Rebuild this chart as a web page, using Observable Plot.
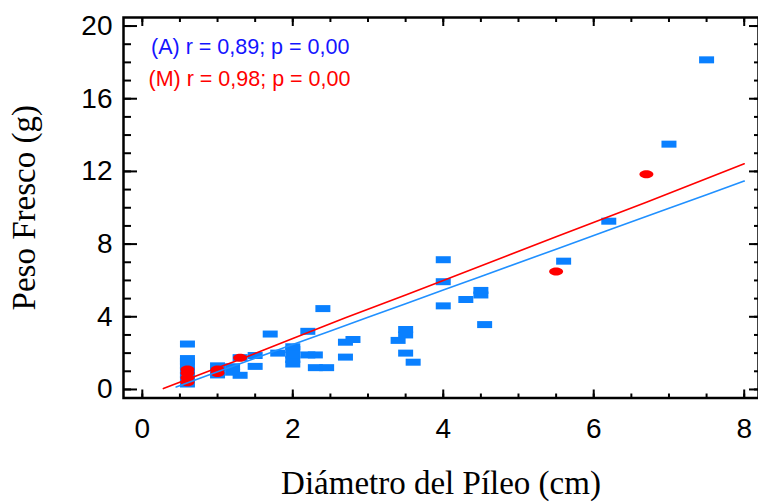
<!DOCTYPE html>
<html>
<head>
<meta charset="utf-8">
<script src="https://cdn.jsdelivr.net/npm/d3@7"></script>
<script src="https://cdn.jsdelivr.net/npm/@observablehq/plot@0.6"></script>
<style>
  html, body { margin: 0; padding: 0; background: #fff; }
</style>
</head>
<body>
<div id="chart"></div>
<script>
// ---- Data ----
// Series (A): blue rectangles
const aX = [0.6, 0.6, 0.6, 0.6, 0.6, 0.6, 0.6, 0.6,
            1.0, 1.0, 1.0, 1.2, 1.2, 1.3, 1.3, 1.5, 1.5, 1.7, 1.8,
            2.0, 2.0, 2.0, 2.0, 2.0, 2.2, 2.2, 2.3, 2.3, 2.45, 2.4,
            2.7, 2.8, 2.7, 3.4, 3.5, 3.5, 3.5, 3.6,
            4.0, 4.0, 4.0, 4.3, 4.5, 4.5, 4.55, 5.6, 6.2, 7.0, 7.5];
const aY = [0.3, 0.55, 0.8, 1.05, 1.3, 1.55, 1.7, 2.5,
            0.8, 1.05, 1.3, 1.25, 0.95, 0.78, 1.75, 1.27, 1.87, 3.05, 2.0,
            1.4, 1.65, 1.9, 2.2, 2.35, 3.2, 1.9, 1.9, 1.2, 1.2, 4.45,
            2.6, 2.75, 1.78, 2.7, 3.0, 3.3, 2.0, 1.5,
            4.6, 5.93, 7.14, 4.95, 5.2, 5.45, 3.57, 7.06, 9.26, 13.5, 18.14];
// Series (M): red ellipses
const mX = [0.6, 0.6, 0.6, 0.6, 1.0, 1.0, 1.3, 5.5, 6.7];
const mY = [0.4, 0.65, 0.9, 1.1, 0.9, 1.1, 1.74, 6.49, 11.85];

// Fitted lines
const aLineX = [0.45, 1.0, 1.5, 2.0, 2.5, 3.0, 3.5, 4.0, 4.5, 5.5, 6.2, 7.0, 7.5, 8.0];
const aLineY = [0.14, 0.97, 1.72, 2.47, 3.22, 3.97, 4.72, 5.47, 6.22, 7.72, 8.77, 9.97, 10.72, 11.47];
const mLineX = [0.28, 1.0, 1.3, 2.0, 2.7, 3.5, 4.0, 5.5, 6.7, 8.0];
const mLineY = [0.05, 1.2, 1.65, 2.8, 3.95, 5.2, 6.0, 8.4, 10.3, 12.42];

// Ticks and labels
const xTicks = [0, 2, 4, 6, 8];
const xMinor = [0, 0.5, 1, 1.5, 2, 2.5, 3, 3.5, 4, 4.5, 5, 5.5, 6, 6.5, 7, 7.5, 8];
const yTicks = [0, 4, 8, 12, 16, 20];
const yMinor = [0, 1, 2, 3, 4, 5, 6, 7, 8, 9, 10, 11, 12, 13, 14, 15, 16, 17, 18, 19, 20];
const annotations = ["(A) r = 0,89; p = 0,00", "(M) r = 0,98; p = 0,00"];
const xLabel = ["Diámetro del Píleo (cm)"];
const yLabel = ["Peso Fresco (g)"];

const aData = aX.map((x, i) => ({x, y: aY[i]}));
const mData = mX.map((x, i) => ({x, y: mY[i]}));
const aLine = aLineX.map((x, i) => ({x, y: aLineY[i]}));
const mLine = mLineX.map((x, i) => ({x, y: mLineY[i]}));

// Custom marker shapes
const rectSymbol = {
  draw(ctx) { ctx.rect(-7.5, -3.5, 15, 7); }
};
const ellipseSymbol = {
  draw(ctx) {
    const rx = 7, ry = 4, k = 0.5523;
    ctx.moveTo(rx, 0);
    ctx.bezierCurveTo(rx, ry * k, rx * k, ry, 0, ry);
    ctx.bezierCurveTo(-rx * k, ry, -rx, ry * k, -rx, 0);
    ctx.bezierCurveTo(-rx, -ry * k, -rx * k, -ry, 0, -ry);
    ctx.bezierCurveTo(rx * k, -ry, rx, -ry * k, rx, 0);
    ctx.closePath();
  }
};

const sans = "'Liberation Sans', Arial, Helvetica, sans-serif";
const serif = "'Liberation Serif', 'Times New Roman', serif";
const noText = () => "";

const chart = Plot.plot({
  width: 758,
  height: 502,
  marginLeft: 123,
  marginRight: 0,
  marginTop: 17,
  marginBottom: 104.5,
  x: {domain: [-0.25, 8.19]},
  y: {domain: [-0.47, 20.47]},
  marks: [
    Plot.frame({stroke: "black", strokeWidth: 2.5}),
    // bottom axis
    Plot.axisX(xMinor, {anchor: "bottom", tickSize: -4, tickFormat: noText, strokeWidth: 2, label: null}),
    Plot.axisX(xTicks, {anchor: "bottom", tickSize: -8, tickFormat: noText, strokeWidth: 2, label: null}),
    Plot.axisX(xTicks, {anchor: "bottom", tickSize: 0, tickPadding: 20, fontSize: 28, fontFamily: sans, fill: "black", label: null}),
    // top axis
    Plot.axisX(xMinor, {anchor: "top", tickSize: -4, tickFormat: noText, strokeWidth: 2, label: null}),
    Plot.axisX(xTicks, {anchor: "top", tickSize: -8, tickFormat: noText, strokeWidth: 2, label: null}),
    // left axis
    Plot.axisY(yMinor, {anchor: "left", tickSize: -8, tickFormat: noText, strokeWidth: 2, label: null}),
    Plot.axisY(yTicks, {anchor: "left", tickSize: -14, tickFormat: noText, strokeWidth: 2, label: null}),
    Plot.axisY(yTicks, {anchor: "left", tickSize: 0, tickPadding: 11, fontSize: 28, fontFamily: sans, fill: "black", label: null}),
    // right axis
    Plot.axisY(yMinor, {anchor: "right", tickSize: -5, tickFormat: noText, strokeWidth: 2, label: null}),
    Plot.axisY(yTicks, {anchor: "right", tickSize: -10, tickFormat: noText, strokeWidth: 2, label: null}),
    // data
    Plot.dot(aData, {x: "x", y: "y", symbol: rectSymbol, fill: "#0a80ff", stroke: "none", r: 4}),
    Plot.dot(mData, {x: "x", y: "y", symbol: ellipseSymbol, fill: "#ff0000", stroke: "none", r: 4}),
    Plot.line(aLine, {x: "x", y: "y", stroke: "#2090ff", strokeWidth: 1.6}),
    Plot.line(mLine, {x: "x", y: "y", stroke: "#ff0000", strokeWidth: 1.6}),
    // annotations
    Plot.text([annotations[0]], {frameAnchor: "top-left", dx: 27.5, dy: 30, textAnchor: "start", lineAnchor: "middle", fontSize: 21.5, fontFamily: sans, fill: "#1414ff"}),
    Plot.text([annotations[1]], {frameAnchor: "top-left", dx: 25, dy: 62, textAnchor: "start", lineAnchor: "middle", fontSize: 21.5, fontFamily: sans, fill: "#ff0000"}),
    // axis titles
    Plot.text(xLabel, {frameAnchor: "bottom", dy: 85, textAnchor: "middle", lineAnchor: "middle", fontSize: 33, fontFamily: serif, fill: "black"}),
    Plot.text(yLabel, {frameAnchor: "left", dx: -99.5, rotate: -90, textAnchor: "middle", lineAnchor: "middle", fontSize: 33, fontFamily: serif, fill: "black"})
  ]
});

document.getElementById("chart").appendChild(chart);
</script>
</body>
</html>
